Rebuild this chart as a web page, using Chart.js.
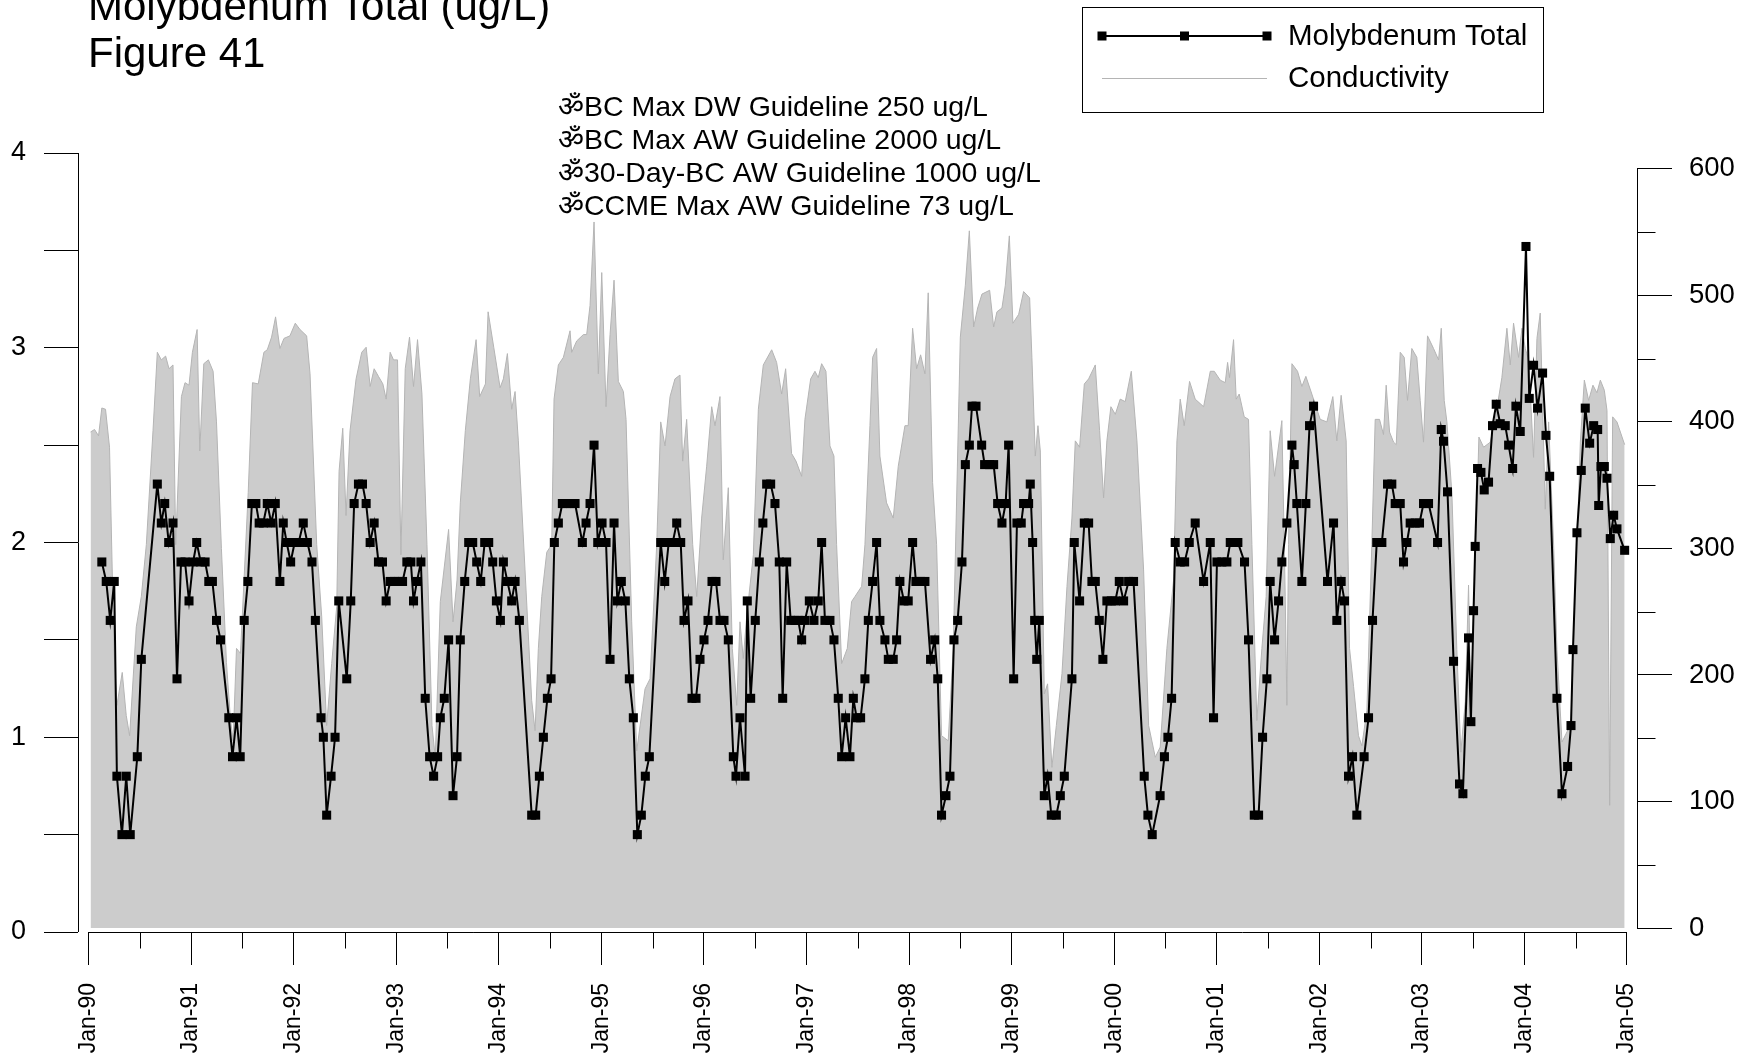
<!DOCTYPE html>
<html>
<head>
<meta charset="utf-8">
<script src="https://cdn.jsdelivr.net/npm/chart.js@4.4.1/dist/chart.umd.min.js"></script>
<style>
  body { margin: 0; background: #fff; }
  canvas { display: block; }
</style>
</head>
<body>
<canvas id="chart" width="1756" height="1057"></canvas>
<script>
// sample dates as decimal years
const moDates = [
  1990.130, 1990.173, 1990.212, 1990.251, 1990.277, 1990.326, 1990.368, 1990.407, 1990.476, 1990.515,
  1990.671, 1990.710, 1990.743, 1990.782, 1990.824, 1990.863, 1990.902, 1990.941, 1990.980,
  1991.020, 1991.055, 1991.094, 1991.137, 1991.173, 1991.208, 1991.248, 1991.287, 1991.368, 1991.404,
  1991.443, 1991.479, 1991.518, 1991.554, 1991.593, 1991.632, 1991.664, 1991.704, 1991.743, 1991.782,
  1991.821, 1991.866, 1991.899, 1991.932, 1991.971,
  1992.010, 1992.049, 1992.094, 1992.134, 1992.179, 1992.212, 1992.267, 1992.290, 1992.322, 1992.365,
  1992.404, 1992.440, 1992.518, 1992.557, 1992.590, 1992.632, 1992.671, 1992.707, 1992.746, 1992.785,
  1992.827, 1992.866, 1992.902, 1992.941, 1992.984,
  1993.023, 1993.062, 1993.104, 1993.143, 1993.169, 1993.202, 1993.241, 1993.283, 1993.326, 1993.365,
  1993.404, 1993.430, 1993.469, 1993.511, 1993.554, 1993.593, 1993.625, 1993.668, 1993.707, 1993.746,
  1993.785, 1993.824, 1993.863, 1993.902, 1993.941, 1993.977,
  1994.016, 1994.045, 1994.084, 1994.126, 1994.159, 1994.201, 1994.321, 1994.360, 1994.396, 1994.435,
  1994.474, 1994.510, 1994.542, 1994.581, 1994.620, 1994.662, 1994.701, 1994.744, 1994.815, 1994.851,
  1994.890, 1994.929, 1994.965,
  1995.007, 1995.046, 1995.085, 1995.124, 1995.156, 1995.195, 1995.234, 1995.273, 1995.312, 1995.351,
  1995.390, 1995.429, 1995.468, 1995.579, 1995.618, 1995.657, 1995.696, 1995.735, 1995.774, 1995.806,
  1995.845, 1995.884, 1995.923, 1995.962,
  1996.001, 1996.040, 1996.079, 1996.118, 1996.157, 1996.196, 1996.238, 1996.287, 1996.313, 1996.352,
  1996.401, 1996.423, 1996.456, 1996.501, 1996.540, 1996.575, 1996.612, 1996.651, 1996.693, 1996.735,
  1996.768, 1996.807, 1996.846, 1996.888, 1996.920, 1996.953, 1996.985,
  1997.028, 1997.073, 1997.115, 1997.148, 1997.180, 1997.229, 1997.268, 1997.310, 1997.343, 1997.382,
  1997.424, 1997.457, 1997.489, 1997.528, 1997.570, 1997.603, 1997.645, 1997.684, 1997.716, 1997.765,
  1997.798, 1997.846, 1997.879, 1997.911, 1997.950, 1997.992,
  1998.035, 1998.067, 1998.113, 1998.155, 1998.210, 1998.250, 1998.280, 1998.317, 1998.360, 1998.399,
  1998.438, 1998.474, 1998.516, 1998.549, 1998.588, 1998.614, 1998.653, 1998.708, 1998.737, 1998.786,
  1998.825, 1998.864, 1998.906, 1998.942, 1998.971,
  1999.020, 1999.052, 1999.094, 1999.117, 1999.166, 1999.182, 1999.205, 1999.225, 1999.245, 1999.270,
  1999.319, 1999.351, 1999.387, 1999.436, 1999.475, 1999.514, 1999.588, 1999.611, 1999.663, 1999.709,
  1999.751, 1999.783, 1999.816, 1999.855, 1999.890, 1999.929, 1999.972,
  2000.011, 2000.050, 2000.092, 2000.141, 2000.189, 2000.293, 2000.329, 2000.371, 2000.448, 2000.490,
  2000.524, 2000.560, 2000.595, 2000.644, 2000.687, 2000.732, 2000.790, 2000.872, 2000.937, 2000.969,
  2001.002, 2001.050, 2001.099, 2001.132, 2001.171, 2001.206, 2001.271, 2001.310, 2001.366, 2001.408,
  2001.447, 2001.489, 2001.521, 2001.564, 2001.603, 2001.635, 2001.684, 2001.733, 2001.755, 2001.781,
  2001.830, 2001.869, 2001.905, 2001.944,
  2002.080, 2002.139, 2002.171, 2002.213, 2002.246, 2002.285, 2002.324, 2002.366, 2002.437, 2002.480,
  2002.519, 2002.560, 2002.610, 2002.665, 2002.707, 2002.740, 2002.789, 2002.821, 2002.854, 2002.886,
  2002.935, 2002.977,
  2003.016, 2003.065, 2003.153, 2003.189, 2003.211, 2003.250, 2003.309, 2003.367, 2003.400, 2003.455,
  2003.478, 2003.504, 2003.520, 2003.543, 2003.576, 2003.608, 2003.650, 2003.689, 2003.725, 2003.764,
  2003.813, 2003.846, 2003.885, 2003.917, 2003.959,
  2004.015, 2004.047, 2004.089, 2004.128, 2004.177, 2004.210, 2004.246, 2004.317, 2004.366, 2004.421,
  2004.454, 2004.473, 2004.512, 2004.554, 2004.593, 2004.636, 2004.675, 2004.714, 2004.724, 2004.746,
  2004.779, 2004.805, 2004.837, 2004.870, 2004.902, 2004.977
];
const moValues = [
  1.9, 1.8, 1.6, 1.8, 0.8, 0.5, 0.8, 0.5, 0.9, 1.4,
  2.3, 2.1, 2.2, 2.0, 2.1, 1.3, 1.9, 1.9, 1.7,
  1.9, 2.0, 1.9, 1.9, 1.8, 1.8, 1.6, 1.5, 1.1, 0.9,
  1.1, 0.9, 1.6, 1.8, 2.2, 2.2, 2.1, 2.1, 2.2, 2.1,
  2.2, 1.8, 2.1, 2.0, 1.9,
  2.0, 2.0, 2.1, 2.0, 1.9, 1.6, 1.1, 1.0, 0.6, 0.8,
  1.0, 1.7, 1.3, 1.7, 2.2, 2.3, 2.3, 2.2, 2.0, 2.1,
  1.9, 1.9, 1.7, 1.8, 1.8,
  1.8, 1.8, 1.9, 1.9, 1.7, 1.8, 1.9, 1.2, 0.9, 0.8,
  0.9, 1.1, 1.2, 1.5, 0.7, 0.9, 1.5, 1.8, 2.0, 2.0,
  1.9, 1.8, 2.0, 2.0, 1.9, 1.7,
  1.6, 1.9, 1.8, 1.7, 1.8, 1.6, 0.6, 0.6, 0.8, 1.0,
  1.2, 1.3, 2.0, 2.1, 2.2, 2.2, 2.2, 2.2, 2.0, 2.1,
  2.2, 2.5, 2.0,
  2.1, 2.0, 1.4, 2.1, 1.7, 1.8, 1.7, 1.3, 1.1, 0.5,
  0.6, 0.8, 0.9, 2.0, 1.8, 2.0, 2.0, 2.1, 2.0, 1.6,
  1.7, 1.2, 1.2, 1.4,
  1.5, 1.6, 1.8, 1.8, 1.6, 1.6, 1.5, 0.9, 0.8, 1.1,
  0.8, 1.7, 1.2, 1.6, 1.9, 2.1, 2.3, 2.3, 2.2, 1.9,
  1.2, 1.9, 1.6, 1.6, 1.6, 1.5, 1.6,
  1.7, 1.6, 1.7, 2.0, 1.6, 1.6, 1.5, 1.2, 0.9, 1.1,
  0.9, 1.2, 1.1, 1.1, 1.3, 1.6, 1.8, 2.0, 1.6, 1.5,
  1.4, 1.4, 1.5, 1.8, 1.7, 1.7,
  2.0, 1.8, 1.8, 1.8, 1.4, 1.5, 1.3, 0.6, 0.7, 0.8,
  1.5, 1.6, 1.9, 2.4, 2.5, 2.7, 2.7, 2.5, 2.4, 2.4,
  2.4, 2.2, 2.1, 2.2, 2.5,
  1.3, 2.1, 2.1, 2.2, 2.2, 2.3, 2.0, 1.6, 1.4, 1.6,
  0.7, 0.8, 0.6, 0.6, 0.7, 0.8, 1.3, 2.0, 1.7, 2.1,
  2.1, 1.8, 1.8, 1.6, 1.4, 1.7, 1.7,
  1.7, 1.8, 1.7, 1.8, 1.8, 0.8, 0.6, 0.5, 0.7, 0.9,
  1.0, 1.2, 2.0, 1.9, 1.9, 2.0, 2.1, 1.8, 2.0, 1.1,
  1.9, 1.9, 1.9, 2.0, 2.0, 2.0, 1.9, 1.5, 0.6, 0.6,
  1.0, 1.3, 1.8, 1.5, 1.7, 1.9, 2.1, 2.5, 2.4, 2.2,
  1.8, 2.2, 2.6, 2.7,
  1.8, 2.1, 1.6, 1.8, 1.7, 0.8, 0.9, 0.6, 0.9, 1.1,
  1.6, 2.0, 2.0, 2.3, 2.3, 2.2, 2.2, 1.9, 2.0, 2.1,
  2.1, 2.1,
  2.2, 2.2, 2.0, 2.58, 2.52, 2.26, 1.39, 0.76, 0.71, 1.51,
  1.08, 1.65, 1.98, 2.38, 2.36, 2.27, 2.31, 2.60, 2.71, 2.61,
  2.60, 2.50, 2.38, 2.70, 2.57,
  3.52, 2.74, 2.91, 2.69, 2.87, 2.55, 2.34, 1.20, 0.71, 0.85,
  1.06, 1.45, 2.05, 2.37, 2.69, 2.51, 2.60, 2.58, 2.19, 2.39,
  2.39, 2.33, 2.02, 2.14, 2.07, 1.96
];

const condDates = [
  1990.020, 1990.059, 1990.098, 1990.130, 1990.166, 1990.205, 1990.248, 1990.277, 1990.329, 1990.368,
  1990.401, 1990.466, 1990.515, 1990.564, 1990.629, 1990.671, 1990.710, 1990.752, 1990.785, 1990.824,
  1990.850, 1990.906, 1990.941, 1990.980,
  1991.013, 1991.059, 1991.085, 1991.124, 1991.169, 1991.215, 1991.248, 1991.296, 1991.345, 1991.384,
  1991.410, 1991.443, 1991.482, 1991.557, 1991.599, 1991.655, 1991.710, 1991.743, 1991.785, 1991.824,
  1991.866, 1991.906, 1991.964,
  1992.016, 1992.062, 1992.127, 1992.160, 1992.225, 1992.274, 1992.322, 1992.371, 1992.420, 1992.443,
  1992.479, 1992.511, 1992.550, 1992.609, 1992.664, 1992.707, 1992.746, 1992.785, 1992.827, 1992.870,
  1992.902, 1992.941, 1992.974,
  1993.013, 1993.046, 1993.088, 1993.130, 1993.169, 1993.208, 1993.251, 1993.300, 1993.349, 1993.381,
  1993.430, 1993.511, 1993.554, 1993.593, 1993.625, 1993.674, 1993.723, 1993.779, 1993.814, 1993.870,
  1993.896, 1993.951,
  1994.013, 1994.045, 1994.084, 1994.126, 1994.159, 1994.191, 1994.256, 1994.321, 1994.354, 1994.386,
  1994.419, 1994.468, 1994.516, 1994.539, 1994.581, 1994.630, 1994.695, 1994.711, 1994.760, 1994.825,
  1994.857, 1994.890, 1994.929, 1994.971,
  1995.004, 1995.046, 1995.085, 1995.124, 1995.166, 1995.215, 1995.241, 1995.296, 1995.345, 1995.426,
  1995.475, 1995.540, 1995.579, 1995.621, 1995.670, 1995.718, 1995.767, 1995.793, 1995.832, 1995.891,
  1995.930, 1995.978,
  1996.027, 1996.076, 1996.108, 1996.157, 1996.189, 1996.238, 1996.277, 1996.320, 1996.352, 1996.384,
  1996.417, 1996.482, 1996.531, 1996.579, 1996.661, 1996.709, 1996.758, 1996.797, 1996.855, 1996.898,
  1996.953, 1996.985,
  1997.041, 1997.083, 1997.115, 1997.148, 1997.190, 1997.229, 1997.268, 1997.294, 1997.343, 1997.398,
  1997.440, 1997.473, 1997.538, 1997.570, 1997.619, 1997.645, 1997.684, 1997.716, 1997.781, 1997.846,
  1997.895, 1997.960, 1997.992,
  1998.035, 1998.074, 1998.113, 1998.155, 1998.187, 1998.230, 1998.269, 1998.317, 1998.382, 1998.431,
  1998.500, 1998.549, 1998.588, 1998.630, 1998.669, 1998.711, 1998.786, 1998.825, 1998.857, 1998.906,
  1998.939, 1998.978,
  1999.013, 1999.069, 1999.117, 1999.176, 1999.198, 1999.231, 1999.257, 1999.280, 1999.319, 1999.351,
  1999.393, 1999.436, 1999.491, 1999.540, 1999.588, 1999.621, 1999.663, 1999.709, 1999.751, 1999.816,
  1999.858, 1999.897, 1999.929, 1999.968,
  2000.011, 2000.059, 2000.108, 2000.167, 2000.222, 2000.287, 2000.336, 2000.401, 2000.449, 2000.514,
  2000.579, 2000.612, 2000.644, 2000.683, 2000.735, 2000.790, 2000.872, 2000.937, 2000.976,
  2001.034, 2001.083, 2001.106, 2001.125, 2001.164, 2001.190, 2001.219, 2001.268, 2001.310, 2001.343,
  2001.391, 2001.440, 2001.482, 2001.521, 2001.564, 2001.635, 2001.668, 2001.684, 2001.700, 2001.733,
  2001.788, 2001.830, 2001.869, 2001.911, 2001.960,
  2002.009, 2002.074, 2002.132, 2002.171, 2002.213, 2002.262, 2002.295, 2002.334, 2002.382, 2002.415,
  2002.464, 2002.512, 2002.545, 2002.587, 2002.626, 2002.652, 2002.685, 2002.724, 2002.750, 2002.789,
  2002.828, 2002.860, 2002.902, 2002.951, 2002.984,
  2003.016, 2003.055, 2003.114, 2003.163, 2003.189, 2003.218, 2003.244, 2003.293, 2003.341, 2003.380,
  2003.423, 2003.455, 2003.478, 2003.511, 2003.556, 2003.602, 2003.667, 2003.715, 2003.780, 2003.829,
  2003.862, 2003.894, 2003.943, 2003.976,
  2004.008, 2004.041, 2004.089, 2004.122, 2004.154, 2004.203, 2004.236, 2004.285, 2004.317, 2004.366,
  2004.415, 2004.454, 2004.496, 2004.545, 2004.584, 2004.626, 2004.668, 2004.707, 2004.740, 2004.779,
  2004.805, 2004.831, 2004.860, 2004.902, 2004.977
];
const condValues = [
  392, 394, 389, 411, 410, 380, 221, 176, 202, 168,
  152, 238, 262, 303, 393, 455, 449, 452, 442, 445,
  303, 420, 431, 429,
  455, 473, 377, 446, 449, 440, 400, 300, 210, 165,
  148, 221, 217, 344, 431, 430, 455, 457, 467, 483,
  458, 466, 468,
  478, 473, 468, 438, 303, 246, 160, 209, 254, 361,
  395, 326, 393, 434, 455, 459, 428, 442, 436, 430,
  418, 455, 449,
  449, 295, 442, 467, 428, 465, 422, 303, 160, 135,
  258, 315, 242, 275, 336, 393, 434, 465, 420, 430,
  487, 459,
  427, 434, 454, 410, 424, 385, 283, 180, 156, 221,
  262, 297, 303, 418, 445, 451, 472, 455, 464, 469,
  469, 492, 558, 438,
  518, 412, 469, 512, 432, 424, 402, 242, 140, 189,
  197, 303, 400, 381, 420, 434, 437, 369, 402, 303,
  262, 324,
  365, 412, 397, 420, 291, 348, 221, 176, 242, 213,
  246, 295, 410, 445, 457, 447, 422, 442, 375, 369,
  357, 402,
  434, 440, 435, 446, 440, 381, 373, 303, 209, 221,
  258, 262, 270, 303, 397, 451, 458, 373, 336, 324,
  365, 397, 397,
  474, 442, 453, 438, 502, 352, 303, 152, 148, 221,
  467, 508, 551, 475, 490, 501, 504, 475, 487, 490,
  508, 547,
  478, 485, 503, 498, 451, 373, 397, 377, 185, 193,
  127, 160, 201, 270, 324, 385, 380, 430, 434, 445,
  393, 340, 385, 412,
  406, 418, 416, 440, 385, 283, 160, 135, 143, 221,
  275, 385, 418, 397, 432, 418, 412, 440, 440,
  433, 431, 447, 435, 465, 418, 422, 404, 402, 303,
  164, 221, 262, 393, 357, 401, 262, 176, 303, 446,
  440, 428, 436, 426, 414,
  402, 400, 420, 385, 421, 385, 221, 191, 152, 144,
  172, 303, 402, 402, 390, 429, 392, 384, 382, 455,
  451, 417, 458, 451, 417,
  384, 468, 458, 449, 474, 417, 400, 343, 220, 139,
  179, 271, 179, 261, 388, 380, 384, 402, 435, 474,
  445, 478, 451, 474,
  458, 449, 372, 466, 486, 331, 400, 302, 220, 147,
  155, 163, 261, 384, 433, 417, 429, 423, 433, 425,
  409, 97, 404, 400, 382
];

const yearTicks = [];
for (let yr = 1990; yr <= 2005; yr += 0.5) yearTicks.push(yr);
const moTicks = [0, 0.5, 1, 1.5, 2, 2.5, 3, 3.5, 4];
const condTicks = [0, 100, 200, 300, 400, 500, 600];
const condMinorTicks = [50, 150, 250, 350, 450, 550];

const titleLines = ['Molybdenum Total (ug/L)', 'Figure 41'];
const guidelines = [
  'ॐBC Max DW Guideline 250 ug/L',
  'ॐBC Max AW Guideline 2000 ug/L',
  'ॐ30-Day-BC AW Guideline 1000 ug/L',
  'ॐCCME Max AW Guideline 73 ug/L'
];
const seriesNames = ['Molybdenum Total', 'Conductivity'];

const FONT = '"Liberation Sans", Arial, Helvetica, sans-serif';
Chart.defaults.font.family = FONT;
Chart.defaults.color = '#000';

function moData() {
  return moDates.map((d, i) => ({ x: d, y: moValues[i] }));
}
function condData() {
  return condDates.map((d, i) => ({ x: d, y: condValues[i] }));
}

// axis lines, minor ticks, title, notes and legend
const decorPlugin = {
  id: 'decor',
  afterDraw(chart) {
    const { ctx, scales } = chart;
    const x = scales.x, y = scales.y, y1 = scales.y1;
    ctx.save();
    ctx.strokeStyle = '#000';
    ctx.lineWidth = 1;
    ctx.beginPath();
    const lx = Math.round(y.right) + 0.5;
    ctx.moveTo(lx, y.getPixelForValue(4));
    ctx.lineTo(lx, y.getPixelForValue(0));
    const by = Math.round(y.getPixelForValue(0)) + 0.5;
    ctx.moveTo(x.getPixelForValue(1990), by);
    ctx.lineTo(x.getPixelForValue(2005), by);
    yearTicks.forEach(v => {
      if (v % 1 !== 0) {
        const px = Math.round(x.getPixelForValue(v)) + 0.5;
        ctx.moveTo(px, by);
        ctx.lineTo(px, by + 16);
      }
    });
    const rx = Math.round(y1.left) + 0.5;
    ctx.moveTo(rx, y1.getPixelForValue(600));
    ctx.lineTo(rx, y1.getPixelForValue(0));
    condMinorTicks.forEach(v => {
      const py = Math.round(y1.getPixelForValue(v)) + 0.5;
      ctx.moveTo(rx, py);
      ctx.lineTo(rx + 18, py);
    });
    ctx.stroke();

    ctx.fillStyle = '#000';
    ctx.textAlign = 'left';
    ctx.textBaseline = 'alphabetic';
    ctx.font = '42px ' + FONT;
    ctx.fillText(titleLines[0], 88, 20);
    ctx.fillText(titleLines[1], 88, 67);

    ctx.font = '28.5px ' + FONT;
    ctx.textBaseline = 'middle';
    guidelines.forEach((g, i) => ctx.fillText(g, 558, 108 + i * 33));

    // legend
    const ds = chart.data.datasets;
    ctx.strokeStyle = '#000';
    ctx.lineWidth = 1;
    ctx.strokeRect(1082.5, 7.5, 461, 105);
    ctx.strokeStyle = ds[0].borderColor;
    ctx.lineWidth = ds[0].borderWidth;
    ctx.beginPath();
    ctx.moveTo(1102, 36);
    ctx.lineTo(1267, 36);
    ctx.stroke();
    ctx.fillStyle = ds[0].pointBackgroundColor;
    [1102, 1184.5, 1267].forEach(px => ctx.fillRect(px - 4.5, 31.5, 9, 9));
    ctx.strokeStyle = ds[1].borderColor;
    ctx.lineWidth = 1;
    ctx.beginPath();
    ctx.moveTo(1102, 78.5);
    ctx.lineTo(1267, 78.5);
    ctx.stroke();
    ctx.fillStyle = '#000';
    ctx.font = '29.5px ' + FONT;
    ctx.fillText(seriesNames[0], 1288, 37);
    ctx.fillText(seriesNames[1], 1288, 79);
    ctx.restore();
  }
};

new Chart(document.getElementById('chart'), {
  type: 'line',
  data: {
    datasets: [
      {
        label: seriesNames[0],
        data: moData(),
        yAxisID: 'y',
        borderColor: '#000',
        borderWidth: 2,
        pointStyle: 'rect',
        pointRadius: 6.4,
        pointBackgroundColor: '#000',
        pointBorderWidth: 0,
        tension: 0,
        fill: false
      },
      {
        label: seriesNames[1],
        data: condData(),
        yAxisID: 'y1',
        borderColor: '#b4b4b4',
        borderWidth: 1,
        backgroundColor: '#cccccc',
        pointRadius: 0,
        tension: 0,
        fill: 'origin'
      }
    ]
  },
  options: {
    responsive: false,
    animation: false,
    devicePixelRatio: 1,
    layout: { padding: { top: 153, left: 0, right: 0, bottom: 0 } },
    plugins: {
      legend: { display: false },
      title: { display: false },
      tooltip: { enabled: false }
    },
    scales: {
      x: {
        type: 'linear',
        min: 1989.8977,
        max: 2005.0975,
        afterBuildTicks: s => { s.ticks = yearTicks.map(v => ({ value: v })); },
        afterFit: s => { s.height = 125; },
        border: { display: false },
        grid: {
          drawOnChartArea: false,
          tickLength: 33,
          tickColor: c => (c.tick && c.tick.value % 1 === 0 ? '#000' : 'rgba(0,0,0,0)')
        },
        ticks: {
          autoSkip: false,
          minRotation: 90,
          maxRotation: 90,
          padding: 18,
          font: { size: 23 },
          callback: v => (v % 1 === 0 ? 'Jan-' + String(v % 100).padStart(2, '0') : '')
        }
      },
      y: {
        position: 'left',
        min: 0,
        max: 4,
        afterBuildTicks: s => { s.ticks = moTicks.map(v => ({ value: v })); },
        afterFit: s => { s.width = 78; },
        border: { display: false },
        grid: { drawOnChartArea: false, tickLength: 34, tickColor: '#000' },
        ticks: {
          padding: 18,
          font: { size: 27 },
          callback: v => (v % 1 === 0 ? String(v) : '')
        }
      },
      y1: {
        position: 'right',
        min: -3.13,
        max: 612.5,
        afterBuildTicks: s => { s.ticks = condTicks.map(v => ({ value: v })); },
        afterFit: s => { s.width = 119; },
        border: { display: false },
        grid: { drawOnChartArea: false, tickLength: 35, tickColor: '#000' },
        ticks: {
          padding: 17,
          font: { size: 27.5 },
          callback: v => String(v)
        }
      }
    }
  },
  plugins: [decorPlugin]
});
</script>
</body>
</html>
